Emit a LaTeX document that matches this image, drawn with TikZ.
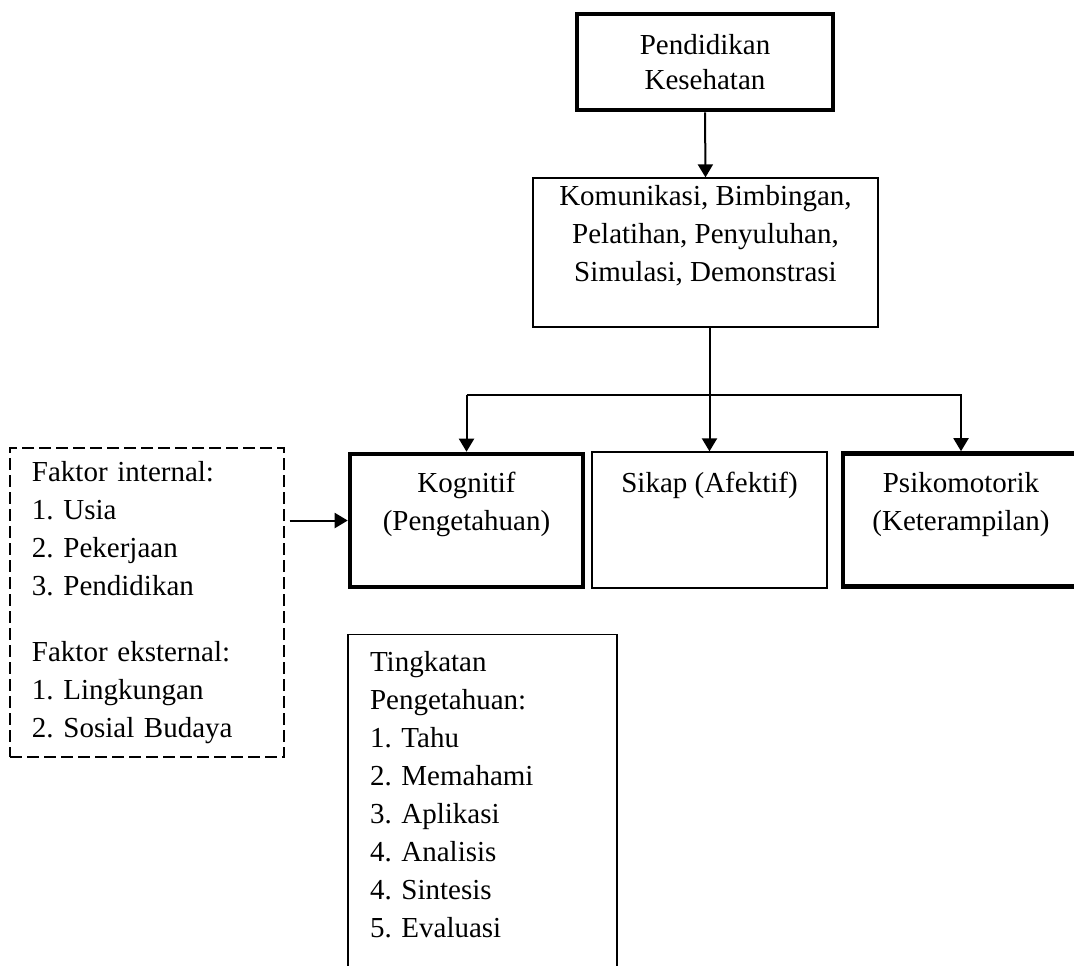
\documentclass[tikz,border=0pt]{standalone}
\usepackage{fontspec}
\setmainfont{Liberation Serif}
\usepackage{tikz}
\usetikzlibrary{arrows.meta}
\usetikzlibrary{positioning}
\frenchspacing
\tikzstyle{bx}=[draw, line width=0.65pt, align=center, inner sep=0pt, font=\fontsize{14.5}{19}\selectfont]
\tikzstyle{tbx}=[bx, line width=2.3pt]
\tikzstyle{lbx}=[bx, align=left, inner xsep=11pt]

\begin{document}
\begin{tikzpicture}[>={Triangle[length=6.5pt,width=7.5pt]}, x=0.5pt, y=-0.5pt]
\useasboundingbox (0,0) rectangle (1074,965);
\node[tbx, minimum width=128pt, minimum height=48pt] (pk) at (705,62) {Pendidikan\\[-1.5pt]Kesehatan};
\node[bx, minimum width=172.5pt, minimum height=74.5pt] (kom) at (705.5,252.5) {Komunikasi, Bimbingan,\\Pelatihan, Penyuluhan,\\Simulasi, Demonstrasi\\\mbox{}};
\node[tbx, minimum width=116.5pt, minimum height=66.5pt] (kog) at (466.5,520.5) {Kognitif\\(Pengetahuan)\\\mbox{}};
\node[bx, minimum width=117.5pt, minimum height=68pt] (sikap) at (709.5,520) {Sikap (Afektif)\\\mbox{}\\\mbox{}};
\node[tbx, minimum width=118pt, minimum height=66.5pt] (psiko) at (961,520) {Psikomotorik\\(Keterampilan)\\\mbox{}};
\node[lbx, dashed, dash pattern=on 6pt off 2.5pt, line width=0.7pt, text width=115pt, minimum width=137pt, minimum height=154.5pt] (faktor) at (147,602.5) {Faktor internal:\\1. Usia\\2. Pekerjaan\\3. Pendidikan\\[14pt]Faktor eksternal:\\1. Lingkungan\\2. Sosial Budaya};
\node[lbx, anchor=north, inner ysep=8.5pt, text width=112.5pt, minimum width=134.5pt] (tingkat) at (482.5,634) {Tingkatan\\Pengetahuan:\\1. Tahu\\2. Memahami\\3. Aplikasi\\4. Analisis\\4. Sintesis\\5. Evaluasi\\\mbox{}};
\coordinate (split) at (709.5,395);
\draw[->, line width=1pt] (pk.south) -- (kom.north);
\draw[->, line width=1pt] (kom.south -| sikap.north) -- (sikap.north);
\draw[->, line width=1pt] (split -| kog.north) -- (kog.north);
\draw[->, line width=1pt] (split -| kog.north) -| (psiko.north);
\draw[->, line width=1pt] ([xshift=2.5pt]faktor.east |- kog.west) -- (kog.west);
\end{tikzpicture}
\end{document}
